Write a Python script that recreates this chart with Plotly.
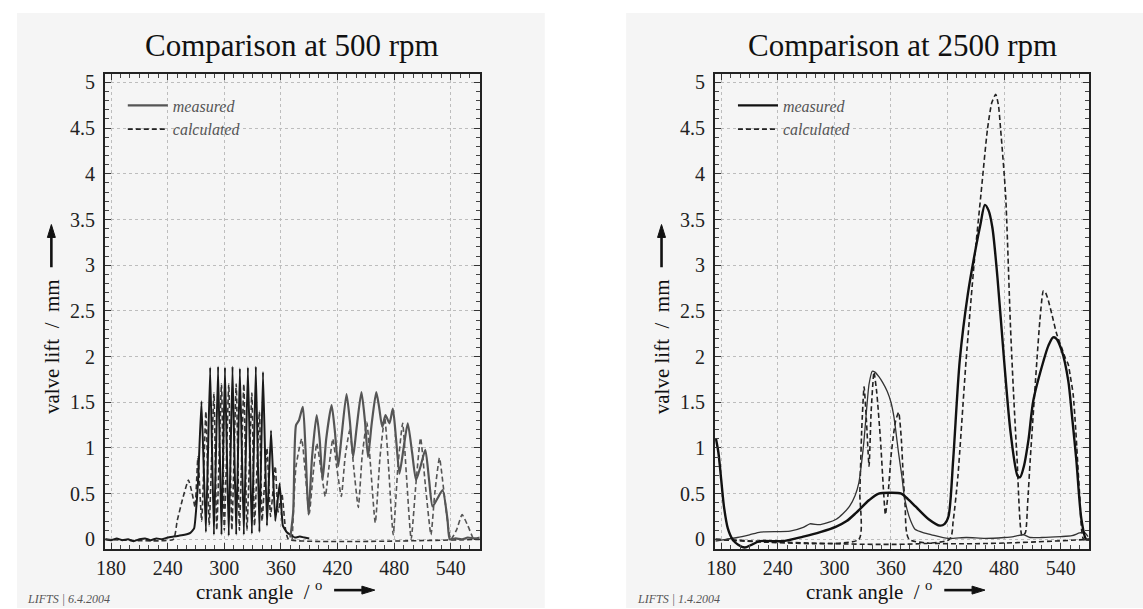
import plotly.graph_objects as go

# ---- data: 500 rpm ----
meas500_a_x = [174, 180, 186, 192, 198, 204, 210, 216, 222, 228, 234, 240, 246, 252, 258, 264, 268, 272,
               275.8, 280.5, 285, 289, 293.4, 297, 300.7, 304.7, 308.7, 312.6, 316.5, 320.7, 325, 329.2,
               333.4, 337.2, 341, 345.2, 349.5, 354, 358.6, 362, 366, 370, 375, 380, 385, 390]
meas500_a_y = [0.0, -0.01, 0.01, -0.01, 0.0, -0.02, 0.0, 0.01, -0.01, 0.01, 0.0, 0.02, 0.03, 0.04, 0.05, 0.07, 0.12, 0.6,
               1.51, 0.08, 1.88, 0.05, 1.89, 0.05, 1.88, 0.04, 1.89, 0.05, 1.87, 0.05, 1.88, 0.06,
               1.89, 0.08, 1.83, 0.15, 1.19, 0.2, 0.61, 0.15, 0.08, 0.05, 0.02, 0.03, 0.02, 0.01]

meas500_b_x = [370, 373, 376, 379, 383.2, 386, 389.2, 393, 397.9, 401, 404.2, 408, 413.7, 417, 420.7, 424, 429.5,
               433, 436.5, 440, 445.3, 449, 452.3, 456, 461, 464, 467.4, 470.8, 475, 478.6, 482, 485.6, 490,
               494.4, 499, 503.2, 508, 513, 517, 520.7, 526, 531.3, 536.5, 539, 545, 552, 558, 565, 571]
meas500_b_y = [0.02, 0.3, 1.25, 1.3, 1.45, 1.0, 0.27, 0.9, 1.36, 1.1, 0.65, 1.1, 1.47, 1.2, 0.8, 1.1, 1.59,
               1.3, 0.9, 1.2, 1.61, 1.3, 0.9, 1.25, 1.61, 1.45, 1.23, 1.36, 1.27, 1.43, 1.1, 0.72, 1.0,
               1.27, 0.95, 0.65, 0.8, 0.98, 0.65, 0.36, 0.45, 0.54, 0.22, 0.0, 0.01, 0.0, 0.02, 0.01, 0.02]

calc500_a_x = [174, 246, 250, 256, 262, 266, 269, 272, 276, 280.5, 284, 289, 292, 297, 300, 304.7, 308, 312.6,
               316, 320.7, 324, 329.2, 332, 337.2, 340, 345.2, 349, 354, 357, 361, 365, 368, 571]
calc500_a_y = [0, 0, 0.2, 0.45, 0.65, 0.5, 0.35, 0.9, 0.2, 1.4, 0.15, 1.6, 0.1, 1.7, 0.1, 1.7, 0.1, 1.7,
               0.1, 1.7, 0.1, 1.6, 0.15, 1.4, 0.2, 1.0, 0.25, 0.8, 0.3, 0.5, 0.1, 0.0, 0.0]

calc500_b_x = [372, 376, 382, 386, 390, 394, 398, 402, 407, 411, 415, 419, 424, 428, 433, 437, 442, 446, 451,
               455, 460, 465, 470, 474, 479, 484, 489, 493, 498, 503, 508, 513, 519, 523, 528, 533, 540, 546,
               552, 558, 564]
calc500_b_y = [0, 0.8, 1.1, 0.7, 0.28, 0.7, 1.05, 0.8, 0.47, 0.8, 1.1, 0.8, 0.47, 0.9, 1.2, 0.8, 0.35, 0.9, 1.28,
               0.8, 0.18, 0.9, 1.33, 0.8, 0.05, 0.8, 1.27, 0.7, 0.0, 0.6, 1.11, 0.6, 0.05, 0.5, 0.89, 0.5, 0.0, 0.1,
               0.27, 0.15, 0.0]

# ---- data: 2500 rpm ----
meas2500_ex_x = [174.4, 177, 180, 183, 187, 192, 198, 205, 212, 221, 246, 267, 285, 302, 313, 323, 337, 347,
                 360, 371, 378, 386, 400, 412, 417, 421, 426, 433, 441.5, 450, 455, 459.6, 463.5, 467.6, 473,
                 480, 487, 494.5, 497, 501, 506, 511, 522, 527, 532, 535, 541, 548, 552, 556.6, 562, 567, 570]
meas2500_ex_y = [1.1, 0.95, 0.65, 0.35, 0.12, 0.0, -0.06, -0.09, -0.06, -0.02, -0.02, 0.03, 0.08, 0.14, 0.2, 0.29,
                 0.43, 0.5, 0.51, 0.5, 0.44, 0.36, 0.22, 0.15, 0.17, 0.25, 0.87, 1.96, 2.68, 3.19, 3.45, 3.66,
                 3.6, 3.41, 2.86, 1.96, 1.16, 0.69, 0.68, 0.8, 1.1, 1.52, 1.96, 2.12, 2.21, 2.2, 2.07, 1.74,
                 1.35, 0.87, 0.22, 0.0, 0.0]

meas2500_in_x = [174, 185, 197, 210, 221.6, 253, 267, 274, 284, 292, 302, 309, 316, 322, 326, 329, 331.5, 334,
                 336.8, 340.2, 343, 347.2, 351, 356, 360, 363, 365, 368, 371.6, 374, 377, 381, 385.5, 395, 403,
                 420.5, 440, 460, 480, 490, 494, 500.7, 507.6, 520, 540, 552, 560, 565, 569]
meas2500_in_y = [-0.02, 0.0, 0.02, 0.05, 0.08, 0.09, 0.13, 0.17, 0.16, 0.18, 0.22, 0.28, 0.36, 0.48, 0.62, 0.85,
                 1.09, 1.4, 1.7, 1.84, 1.83, 1.78, 1.72, 1.62, 1.5, 1.35, 1.2, 0.95, 0.69, 0.48, 0.33, 0.2, 0.11,
                 0.07, 0.05, 0.01, 0.02, 0.01, 0.02, 0.03, 0.04, 0.05, 0.02, 0.02, 0.03, 0.04, 0.07, 0.08, 0.03]

calc2500_in_x = [174, 326, 327, 329, 331.5, 334, 336.8, 339, 342, 345, 348.9, 352, 354.1, 357, 360, 362.9,
                 365, 368.2, 371, 373, 375.1, 379.3, 571]
calc2500_in_y = [0, 0, 0.5, 1.2, 1.67, 1.3, 0.8, 1.4, 1.83, 1.6, 1.09, 0.55, 0.27, 0.5, 0.9, 1.16,
                 1.3, 1.39, 1.1, 0.7, 0.36, 0, 0]

calc2500_ex_x = [174, 422, 426, 431, 439.7, 448.4, 455.4, 462.4, 467, 471.1, 474, 476.3, 481.6, 486.8, 490,
                 493.8, 499, 502.5, 505, 507.7, 514.8, 518, 521.7, 524, 527, 531, 535.7, 541, 545, 547.9, 550,
                 553.2, 556, 560, 564.3, 571]
calc2500_ex_y = [0, 0, 0.2, 0.69, 1.96, 3.04, 3.77, 4.49, 4.78, 4.87, 4.75, 4.49, 3.77, 2.32, 1.6,
                 0.87, 0.04, 0.07, 0.4, 0.87, 1.96, 2.4, 2.72, 2.7, 2.61, 2.45, 2.25, 2.1, 1.98, 1.92, 1.8,
                 1.59, 1.2, 0.51, 0, 0]

W, H = 1143, 609
SERIF = "Liberation Serif"


def px(x):
    return x / W


def py(y):
    return 1 - y / H


fig = go.Figure()


def line(x, y, xa, ya, color, width, dash="solid", name=None, legend=None, smooth=0.6):
    fig.add_trace(go.Scatter(
        x=x, y=y, xaxis=xa, yaxis=ya, mode="lines",
        line=dict(color=color, width=width, dash=dash, shape="spline", smoothing=smooth),
        name=name, showlegend=name is not None, legend=legend, hoverinfo="skip",
    ))


DASH = "5px,3px"
# left panel
line(calc500_a_x, calc500_a_y, "x", "y", "#333", 1.6, DASH, smooth=0.4)
line(calc500_b_x, calc500_b_y, "x", "y", "#555", 1.6, DASH, smooth=0.5)
line(meas500_a_x, meas500_a_y, "x", "y", "#1a1a1a", 2.0, smooth=0.3)
line(meas500_b_x, meas500_b_y, "x", "y", "#555", 2.2, name="measured", legend="legend", smooth=0.6)
fig.add_trace(go.Scatter(x=[None], y=[None], xaxis="x", yaxis="y", mode="lines",
                         line=dict(color="#222", width=1.6, dash=DASH), name="calculated", legend="legend"))
# right panel
line(calc2500_in_x, calc2500_in_y, "x2", "y2", "#222", 1.6, DASH, smooth=0.5)
line(calc2500_ex_x, calc2500_ex_y, "x2", "y2", "#222", 1.6, DASH, smooth=0.6)
line(meas2500_in_x, meas2500_in_y, "x2", "y2", "#333", 1.3, smooth=0.6)
line(meas2500_ex_x, meas2500_ex_y, "x2", "y2", "#111", 2.4, name="measured", legend="legend2", smooth=0.8)
fig.add_trace(go.Scatter(x=[None], y=[None], xaxis="x2", yaxis="y2", mode="lines",
                         line=dict(color="#222", width=1.6, dash=DASH), name="calculated", legend="legend2"))

axis_common = dict(
    showline=True, linecolor="#222", linewidth=2, mirror="ticks",
    ticks="inside", ticklen=6, tickcolor="#333", tickwidth=1,
    showgrid=True, gridcolor="#bdbdbd", griddash="dot", gridwidth=1,
    zeroline=False, tickfont=dict(family=SERIF, size=20, color="#222"),
)
xcommon = dict(axis_common, range=[173.5, 570.5], tickmode="array",
               tickvals=[180, 240, 300, 360, 420, 480, 540],
               minor=dict(dtick=10, ticks="inside", ticklen=4, tickcolor="#444", showgrid=False))
ycommon = dict(axis_common, range=[-0.11, 5.09], tickmode="array",
               tickvals=[0, 0.5, 1, 1.5, 2, 2.5, 3, 3.5, 4, 4.5, 5],
               ticktext=["0", "0.5", "1", "1.5", "2", "2.5", "3", "3.5", "4", "4.5", "5"],
               ticklabelstandoff=4,
               minor=dict(dtick=0.1, ticks="inside", ticklen=4, tickcolor="#444", showgrid=False))

L0, L1 = 96.7, 474.3
R0, R1 = 711.7, 1089
T, B = 71.7, 550

legend_style = dict(font=dict(family=SERIF, size=16, style="italic", color="#555"),
                    bgcolor="rgba(0,0,0,0)", xanchor="left", yanchor="top", itemwidth=40,
                    tracegroupgap=0)


def arrow(x0, y0, x1, y1):
    # shaft plus filled head, in page pixels
    dx, dy = x1 - x0, y1 - y0
    n = (dx * dx + dy * dy) ** 0.5
    ux, uy = dx / n, dy / n
    hl, hw = 13, 4
    bx, by = x1 - ux * hl, y1 - uy * hl
    head = (f"M {px(x1)} {py(y1)} L {px(bx - uy * hw)} {py(by + ux * hw)} "
            f"L {px(bx + uy * hw)} {py(by - ux * hw)} Z")
    return [
        dict(type="line", xref="paper", yref="paper", x0=px(x0), y0=py(y0), x1=px(bx), y1=py(by),
             line=dict(color="#111", width=2.6)),
        dict(type="path", xref="paper", yref="paper", path=head, fillcolor="#111",
             line=dict(color="#111", width=1)),
    ]


shapes = [
    dict(type="rect", xref="paper", yref="paper", x0=px(8), x1=px(540), y0=0, y1=py(10),
         fillcolor="#f5f5f5", line_width=0, layer="below"),
    dict(type="rect", xref="paper", yref="paper", x0=px(622), x1=1, y0=0, y1=py(10),
         fillcolor="#f5f5f5", line_width=0, layer="below"),
]
annotations = []
for cx, lab, date, x0 in [((L0 + L1) / 2, "Comparison at 500 rpm", "LIFTS | 6.4.2004", L0),
                          ((R0 + R1) / 2, "Comparison at 2500 rpm", "LIFTS | 1.4.2004", R0)]:
    annotations += [
        dict(x=px(cx), y=py(43), xref="paper", yref="paper", text=lab, showarrow=False,
             font=dict(family=SERIF, size=31, color="#111"), xanchor="center", yanchor="middle"),
        dict(x=px(x0 - 54), y=py(346), xref="paper", yref="paper", text="valve lift  /  mm",
             textangle=-90, showarrow=False, font=dict(family=SERIF, size=21, color="#111"),
             xanchor="center", yanchor="middle"),
        dict(x=px(x0 + 90), y=py(591), xref="paper", yref="paper",
             text="crank angle  / <sup>o</sup>", showarrow=False,
             font=dict(family=SERIF, size=21, color="#111"), xanchor="left", yanchor="middle"),
        dict(x=px(x0 - 81), y=py(600), xref="paper", yref="paper", text=date, showarrow=False,
             font=dict(family=SERIF, size=12, style="italic", color="#555"),
             xanchor="left", yanchor="middle"),
    ]
    shapes += arrow(x0 - 54, 266, x0 - 54, 223)
    shapes += arrow(x0 + 231, 591, x0 + 272, 591)

fig.update_layout(
    width=W, height=H, margin=dict(l=0, r=0, t=0, b=0),
    paper_bgcolor="white", plot_bgcolor="#f5f5f5",
    xaxis=dict(xcommon, domain=[px(L0), px(L1)], anchor="y"),
    yaxis=dict(ycommon, domain=[py(B), py(T)], anchor="x"),
    xaxis2=dict(xcommon, domain=[px(R0), px(R1)], anchor="y2"),
    yaxis2=dict(ycommon, domain=[py(B), py(T)], anchor="x2"),
    legend=dict(legend_style, x=px(L0 + 18), y=py(86)),
    legend2=dict(legend_style, x=px(R0 + 18), y=py(86)),
    shapes=shapes,
    annotations=annotations,
    hovermode=False,
)

fig.write_html("out.html", config={"displayModeBar": False},
               post_script="document.body.style.margin='0';")
